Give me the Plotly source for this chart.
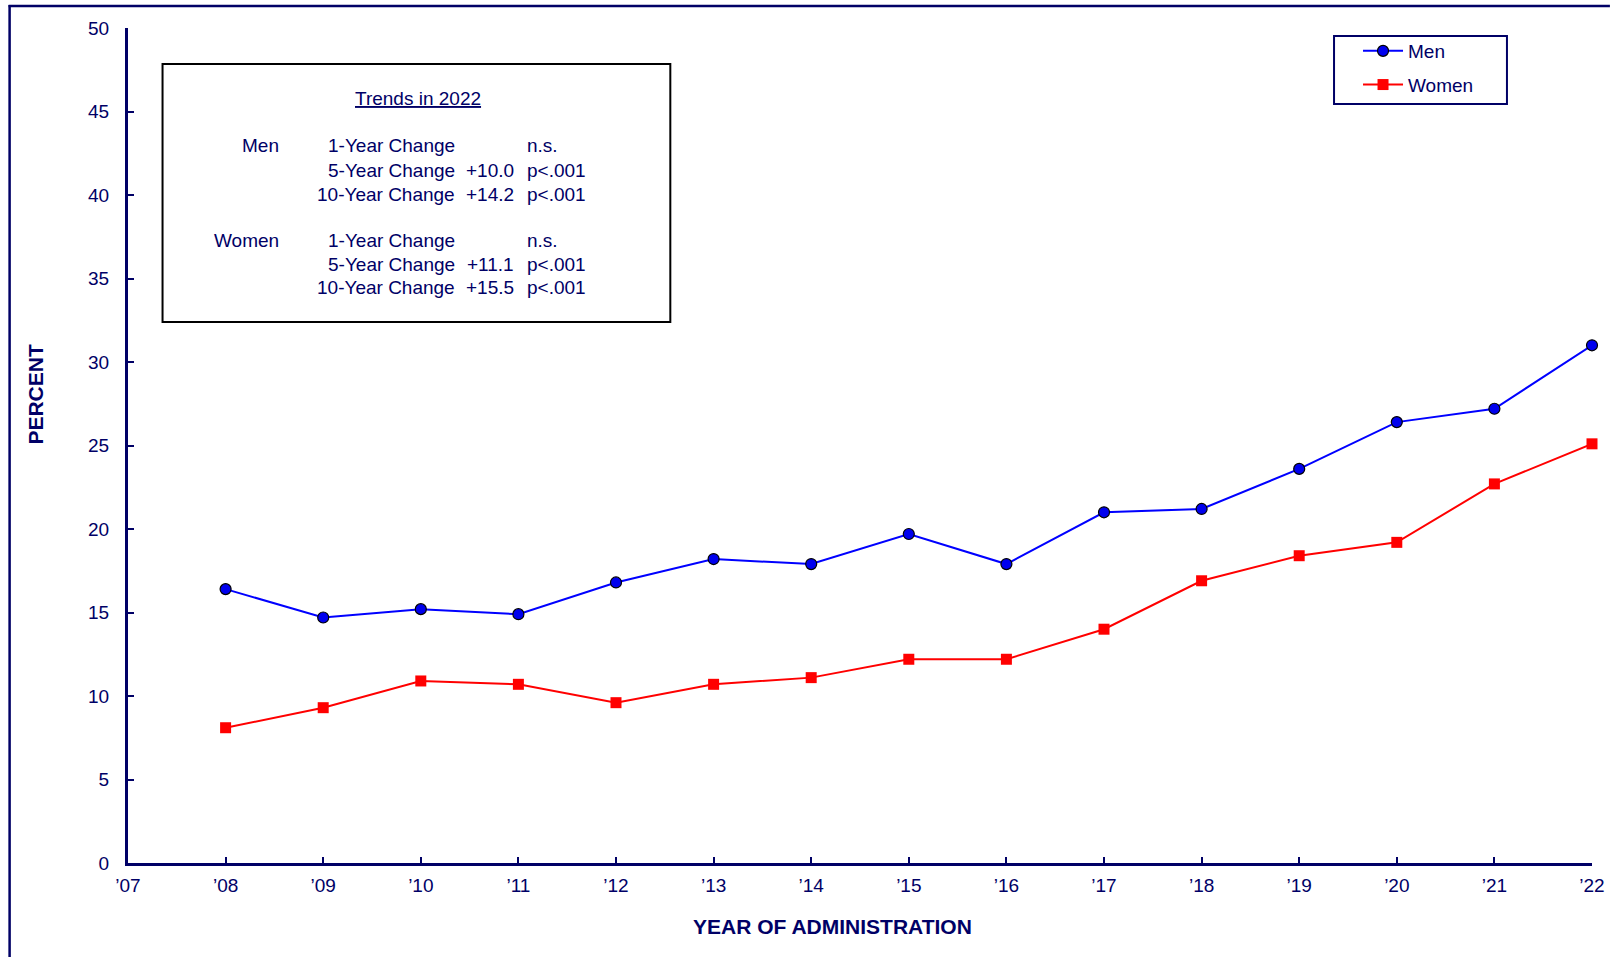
import plotly.graph_objects as go

years = list(range(2008, 2023))
men = [16.4, 14.7, 15.2, 14.9, 16.8, 18.2, 17.9, 19.7, 17.9, 21.0, 21.2, 23.6, 26.4, 27.2, 31.0]
women = [8.1, 9.3, 10.9, 10.7, 9.6, 10.7, 11.1, 12.2, 12.2, 14.0, 16.9, 18.4, 19.2, 22.7, 25.1]
tick_years = list(range(2007, 2023))
tick_labels = ["\u2019%02d" % (y % 100) for y in tick_years]

NAVY = "#000066"
FONT = "Liberation Sans, Arial, sans-serif"
FS = 19

fig = go.Figure()
fig.add_trace(go.Scatter(
    x=years, y=men, name="Men", mode="lines+markers", legendgroup="m",
    line=dict(color="#0000FF", width=2),
    marker=dict(symbol="circle", size=11, color="#0000EE", line=dict(color="#000000", width=1.2)),
    cliponaxis=False,
))
fig.add_trace(go.Scatter(
    x=years, y=women, name="Women", mode="lines+markers", legendgroup="w",
    line=dict(color="#FF0000", width=2),
    marker=dict(symbol="square", size=11, color="#FF0000"),
    cliponaxis=False,
))

SX = 1617 / 1610.0  # horizontal layout scale
W, H = 1617, 957
L, R, T, B = round(127 * SX), round(18 * SX), 28, 94
pw, ph = W - L - R, H - T - B

def px(x):
    return (x * SX - L) / pw

def py(y):
    return (H - B - y) / ph

fig.update_layout(
    width=W, height=H,
    margin=dict(l=L, r=R, t=T, b=B),
    paper_bgcolor="white", plot_bgcolor="white",
    font=dict(family=FONT, color=NAVY, size=FS),
    showlegend=True,
    legend=dict(
        x=px(1358), y=py(32), xanchor="left", yanchor="top",
        borderwidth=0, bgcolor="rgba(0,0,0,0)",
        font=dict(size=FS, color=NAVY, family=FONT),
        tracegroupgap=6, itemwidth=40,
    ),
    xaxis=dict(
        range=[2007, 2022], tickmode="array", tickvals=tick_years, ticktext=tick_labels,
        showgrid=False, zeroline=False, showline=True, linecolor=NAVY, linewidth=3,
        ticks="inside", ticklen=6, tickwidth=2, tickcolor=NAVY,
        tickfont=dict(size=FS, color=NAVY, family=FONT), ticklabelstandoff=3,
    ),
    yaxis=dict(
        range=[0, 50], tickmode="array", tickvals=list(range(0, 51, 5)),
        showgrid=False, zeroline=False, showline=True, linecolor=NAVY, linewidth=3,
        ticks="inside", ticklen=6, tickwidth=2, tickcolor=NAVY,
        tickfont=dict(size=FS, color=NAVY, family=FONT), ticklabelstandoff=12,
    ),
)

# outer frame (left + top edges)
fig.add_shape(type="line", xref="paper", yref="paper", x0=px(9), x1=px(9), y0=py(5), y1=py(957),
              line=dict(color=NAVY, width=2.5))
fig.add_shape(type="line", xref="paper", yref="paper", x0=px(8), x1=px(1610), y0=py(6), y1=py(6),
              line=dict(color=NAVY, width=2.5))

# legend frame
fig.add_shape(type="rect", xref="paper", yref="paper", x0=px(1334), x1=px(1507), y0=py(36), y1=py(104),
              line=dict(color=NAVY, width=2), layer="below")

# trends box
fig.add_shape(type="rect", xref="paper", yref="paper", x0=px(162), x1=px(670), y0=py(64), y1=py(322),
              line=dict(color="#000000", width=2), fillcolor="white")

def txt(x, y, s, anchor, size=FS, angle=0):
    fig.add_annotation(xref="paper", yref="paper", x=px(x), y=py(y), text=s, showarrow=False,
                       xanchor=anchor, yanchor="middle", textangle=angle,
                       font=dict(size=size, color=NAVY, family=FONT))

# axis titles
txt(832, 926, "<b>YEAR OF ADMINISTRATION</b>", "center", size=21)
txt(34, 394, "<b>PERCENT</b>", "center", size=21, angle=-90)

txt(418, 98, "<u>Trends in 2022</u>", "center")
rows = [
    (146, "Men", "1-Year Change", "", "n.s."),
    (170, "", "5-Year Change", "+10.0", "p<.001"),
    (194, "", "10-Year Change", "+14.2", "p<.001"),
    (241, "Women", "1-Year Change", "", "n.s."),
    (264, "", "5-Year Change", "+11.1", "p<.001"),
    (287, "", "10-Year Change", "+15.5", "p<.001"),
]
for y, a, b, c, d in rows:
    if a:
        txt(281, y, a, "right")
    txt(457, y, b, "right")
    if c:
        txt(516, y, c, "right")
    txt(525, y, d, "left")

post = (
    "var s=document.createElement('style');"
    "s.textContent='html,body{margin:0;padding:0;overflow:hidden;}';"
    "document.head.appendChild(s);"
)
fig.write_html("out.html", config={"displayModeBar": False}, post_script=post)
